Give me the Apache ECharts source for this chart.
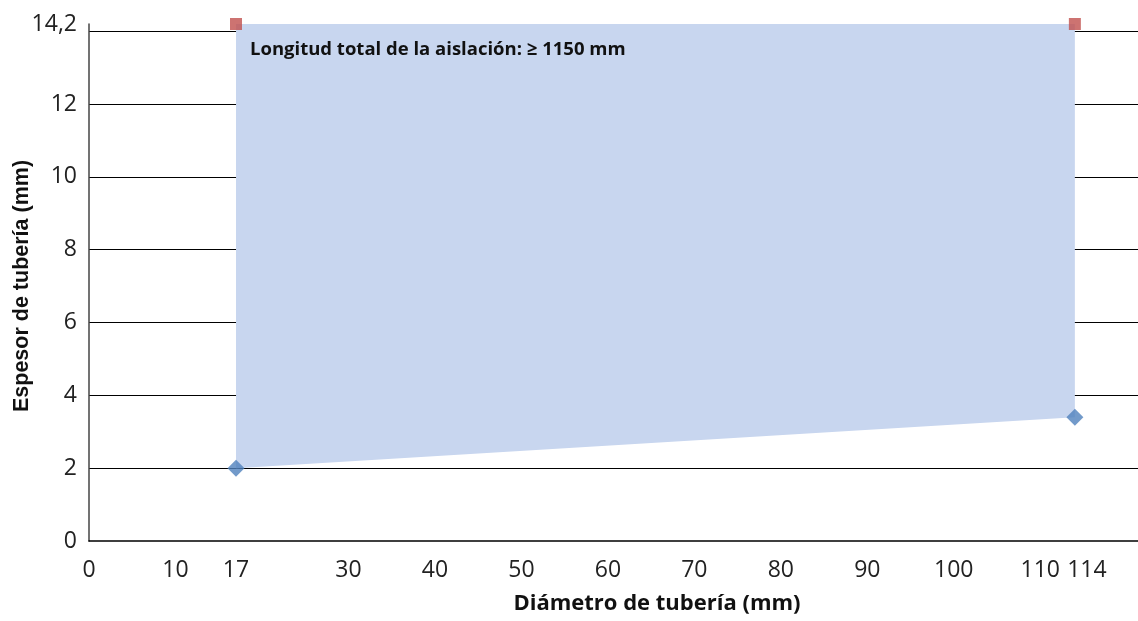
<!DOCTYPE html>
<html>
<head>
<meta charset="utf-8">
<script src="https://cdn.jsdelivr.net/npm/echarts@6/dist/echarts.min.js"></script>
<style>html,body{margin:0;padding:0;background:#fff}#c{width:1138px;height:621px}</style>
</head>
<body>
<div id="c"></div>
<script>
// Data
const diameters = [17, 114];          // Diámetro de tubería (mm)
const minThickness = [2, 3.4];        // lower bound (blue diamonds)
const maxThickness = [14.2, 14.2];    // upper bound (red squares)
const xTickLabels = [0, 10, 17, 30, 40, 50, 60, 70, 80, 90, 100, 110, 114];
const yTickLabels = [0, 2, 4, 6, 8, 10, 12, 14.2];
const annotation = 'Longitud total de la aislación: ≥ 1150 mm';
const xTitle = 'Diámetro de tubería (mm)';
const yTitle = 'Espesor de tubería (mm)';

const FONT = '"Open Sans", Lato, sans-serif';
const chart = echarts.init(document.getElementById('c'), null, {renderer: 'canvas'});

const bandData = diameters.map((d, i) => [d, minThickness[i], maxThickness[i]]);

chart.setOption({
  animation: false,
  grid: {left: 89, right: 0, top: 24, bottom: 80, outerBoundsMode: 'none', containLabel: false},
  xAxis: {
    type: 'value', min: 0, max: 121.3,
    splitLine: {show: false},
    axisTick: {show: false},
    axisLine: {show: true, lineStyle: {color: '#000', width: 1.5}},
    axisLabel: {
      customValues: xTickLabels,
      showMinLabel: true, showMaxLabel: true, hideOverlap: false,
      margin: 18, fontSize: 23, color: '#222', fontFamily: FONT,
      formatter: v => (v === xTickLabels[xTickLabels.length - 1] ? '{s|' + v + '}' : String(v)),
      rich: {s: {fontSize: 23, color: '#222', fontFamily: FONT, padding: [0, 0, 0, 24]}}
    }
  },
  yAxis: {
    type: 'value', min: 0, max: 14.2, interval: 2,
    axisTick: {show: false},
    axisLine: {show: true, lineStyle: {color: '#444', width: 1.5}},
    splitLine: {show: true, showMaxLine: false, showMinLine: false, lineStyle: {color: '#000', width: 1.2}},
    axisLabel: {
      customValues: yTickLabels,
      showMinLabel: true, showMaxLabel: true, hideOverlap: false,
      margin: 12, fontSize: 23, color: '#222', fontFamily: FONT,
      formatter: v => String(v).replace('.', ',')
    }
  },
  graphic: [
    {type: 'text', left: 250, top: 40, style: {text: annotation, font: 'bold 18.5px ' + FONT, fill: '#111'}, z: 100},
    {type: 'text', x: 657, y: 604, style: {text: xTitle, font: 'bold 22px ' + FONT, fill: '#111', align: 'center', verticalAlign: 'middle'}, z: 100},
    {type: 'text', x: 22, y: 286, rotation: Math.PI / 2, style: {text: yTitle, font: 'bold 21.5px "Liberation Sans", Arial, sans-serif', fill: '#111', align: 'center', verticalAlign: 'middle'}, z: 100}
  ],
  series: [
    {
      type: 'custom',
      data: bandData,
      z: 1,
      renderItem: function (params, api) {
        const i = params.dataIndex;
        if (i >= bandData.length - 1) return null;
        const a = bandData[i], b = bandData[i + 1];
        const pts = [
          api.coord([a[0], a[1]]),
          api.coord([a[0], a[2]]),
          api.coord([b[0], b[2]]),
          api.coord([b[0], b[1]])
        ];
        return {type: 'polygon', shape: {points: pts}, style: {fill: '#C8D6EF'}};
      }
    },
    {
      type: 'scatter', symbol: 'diamond', symbolSize: 17, z: 5,
      itemStyle: {color: '#4F81BD'},
      data: diameters.map((d, i) => [d, minThickness[i]])
    },
    {
      type: 'scatter', symbol: 'rect', symbolSize: 12, z: 5,
      itemStyle: {color: '#C0504D'},
      data: diameters.map((d, i) => [d, maxThickness[i]])
    }
  ]
});
</script>
</body>
</html>
